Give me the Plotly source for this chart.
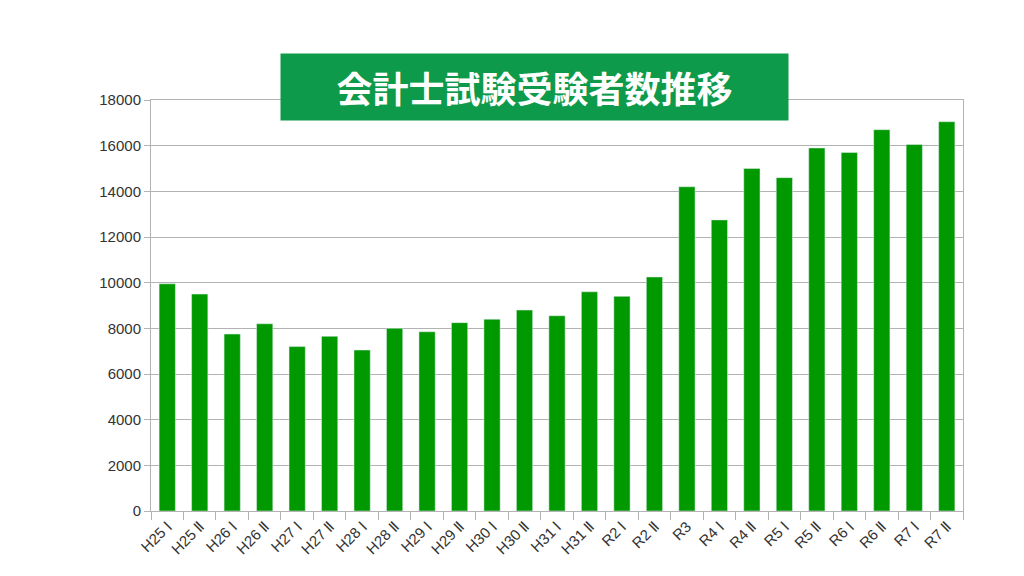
import plotly.graph_objects as go

categories = ["H25 Ⅰ","H25 Ⅱ","H26 Ⅰ","H26 Ⅱ","H27 Ⅰ","H27 Ⅱ","H28 Ⅰ","H28 Ⅱ","H29 Ⅰ","H29 Ⅱ",
              "H30 Ⅰ","H30 Ⅱ","H31 Ⅰ","H31 Ⅱ","R2 Ⅰ","R2 Ⅱ","R3","R4 Ⅰ","R4 Ⅱ","R5 Ⅰ",
              "R5 Ⅱ","R6 Ⅰ","R6 Ⅱ","R7 Ⅰ","R7 Ⅱ"]
values = [9950,9500,7750,8200,7200,7650,7050,8000,7850,8250,
          8400,8800,8550,9600,9400,10250,14200,12750,15000,14600,
          15900,15700,16700,16050,17050]
title_text = "会計士試験受験者数推移"

fig = go.Figure(go.Bar(x=categories, y=values, marker_color="#009900", width=0.5))
fig.update_layout(
    width=1024, height=576, paper_bgcolor="white", plot_bgcolor="white",
    margin=dict(l=143, r=69, t=92, b=73, autoexpand=False), showlegend=False,
    font=dict(family="Liberation Sans, Arial", size=15, color="#333"),
    annotations=[dict(text="<b>"+title_text+"</b>", xref="paper", yref="paper",
                      x=(272-143)/812, y=1+47/411, showarrow=False,
                      width=495, height=54, bgcolor="#0d9a4a", borderpad=6,
                      font=dict(family="Noto Sans CJK JP", size=36, color="white"))],
)
fig.update_xaxes(tickangle=-45, tickson="boundaries", ticks="outside", ticklen=8, tickcolor="#b3b3b3",
                 showline=True, linecolor="#b3b3b3", showgrid=False, range=[-0.5, 24.5],
                 mirror=True, automargin=False)
fig.update_yaxes(range=[0, 18000], dtick=2000, tickformat="d", gridcolor="#b3b3b3", showline=True,
                 linecolor="#b3b3b3", mirror=True, ticks="outside", ticklen=6, tickcolor="#b3b3b3",
                 zeroline=False, automargin=False)
fig.write_html("out.html")
